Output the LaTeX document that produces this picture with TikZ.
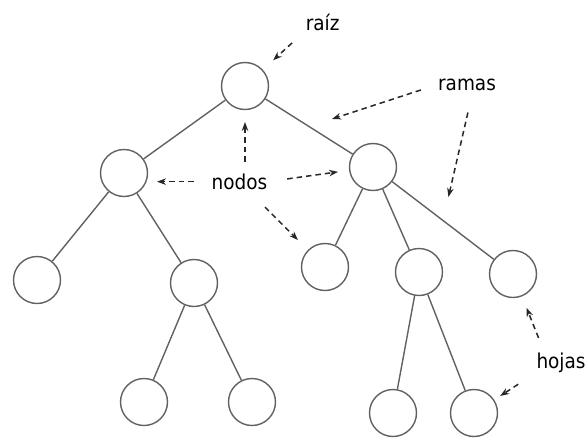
\documentclass[tikz,border=0pt]{standalone}
\usepackage{fontspec}
\newfontfamily\lblfont{DejaVu Sans Condensed}
\usetikzlibrary{arrows.meta,calc}

\begin{document}
\begin{tikzpicture}[x=1pt,y=-1pt,
    every edge/.style={draw=black!62,line width=1.4pt}]
  \tikzstyle{nodeT}=[circle,draw=black!62,line width=1.4pt,minimum size=47pt,inner sep=0pt]
  \tikzstyle{lbl}=[inner sep=0pt,anchor=base,font=\lblfont\fontsize{20.5}{24}\selectfont,text=black]
  \tikzstyle{arr}=[draw=black!85,line width=1.5pt,dash pattern=on 5.5pt off 4pt,-{Stealth[length=9pt,width=6.5pt]}]
  \useasboundingbox (0,0) rectangle (587,437);

  % Nodes
  \node[nodeT] (root) at (245,86) {};
  \node[nodeT] (L)    at (124,173) {};
  \node[nodeT] (R)    at (373,167) {};
  \node[nodeT] (LL)   at (37,280) {};
  \node[nodeT] (LR)   at (194,283) {};
  \node[nodeT] (LRL)  at (144,402) {};
  \node[nodeT] (LRR)  at (252,402) {};
  \node[nodeT] (RL)   at (325,267) {};
  \node[nodeT] (RM)   at (419,272) {};
  \node[nodeT] (RR)   at (513,274) {};
  \node[nodeT] (RML)  at (393,413) {};
  \node[nodeT] (RMR)  at (474,413) {};

  % Branches
  \path (root) edge (L) edge (R);
  \path (L) edge (LL) edge (LR);
  \path (LR) edge (LRL) edge (LRR);
  \path (R) edge (RL) edge (RM) edge (RR);
  \path (RM) edge (RML) edge (RMR);
  \coordinate (b1) at ($(root)!0.5!(R)$);
  \coordinate (b2) at ($(R)!0.5!(RR)$);

  % Labels
  \node[lbl] (raiz)  at (322.7,30) {raíz};
  \node[lbl] (ramas) at (467,90) {ramas};
  \node[lbl] (nodos) at (239.5,189.3) {nodos};
  \node[lbl] (hojas) at (561,368) {hojas};

  % Pointers
  \path (raiz.south west) edge[arr,shorten <=18.4pt,shorten >=38.1pt] (root.center);
  \path (ramas.west) edge[arr,shorten <=17.9pt,shorten >=24.2pt] (b1);
  \path ([xshift=6pt]ramas.south) edge[arr,shorten <=22.6pt,shorten >=24.1pt] (b2);
  \path (nodos.north -| root.center) edge[arr,shorten <=11.7pt,shorten >=36pt] (root.center);
  \path (nodos.west) edge[arr,shorten <=17.7pt,shorten >=33pt] (nodos.west -| L.center);
  \path (nodos.east) edge[arr,shorten <=19.9pt,shorten >=35.3pt] (R.center);
  \path (nodos.center) edge[arr,shorten <=36.1pt,shorten >=38.2pt] (RL.center);
  \path ([xshift=8pt]hojas.north west) edge[arr,shorten <=15.4pt,shorten >=36.4pt] (RR.center);
  \path (hojas.south west) edge[arr,shorten <=21.6pt,shorten >=31.2pt] (RMR.center);
\end{tikzpicture}
\end{document}
